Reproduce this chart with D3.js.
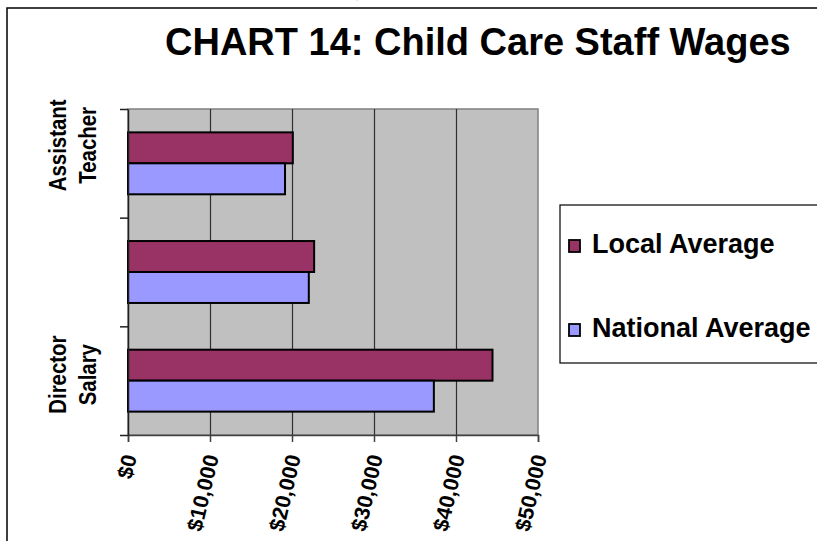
<!DOCTYPE html>
<html>
<head>
<meta charset="utf-8">
<script src="https://cdn.jsdelivr.net/npm/d3@7"></script>
<style>
  body { margin: 0; background: #fff; }
  svg { display: block; font-family: "Liberation Sans", Arial, sans-serif; }
</style>
</head>
<body>
<svg id="vis" width="817" height="541"></svg>
<script>
'use strict';

// chart data, top category first (Excel draws the first row at the bottom)
var categories = ['Assistant Teacher', 'Teacher', 'Director Salary'];
var categoryLabels = [['Assistant', 'Teacher'], [], ['Director', 'Salary']];
var seriesNames = ['Local Average', 'National Average'];
var localAverage = [20100, 22700, 44450];
var nationalAverage = [19150, 22050, 37300];
var xTicks = [0, 10000, 20000, 30000, 40000, 50000];

(function () {
    var colors = ['#993366', '#9999FF'];
    var plot = {left: 128, top: 109, right: 538, bottom: 435};
    // Excel puts the wrapped labels a bit above the band centre
    var labelShift = [-18, 0, -6];

    var svg = d3.select('#vis');

    // page border (the chart was cut out of a larger document)
    svg.append('rect')
        .attr('x', 7).attr('y', 8)
        .attr('width', 900).attr('height', 600)
        .attr('fill', '#fff')
        .attr('stroke', '#000')
        .attr('stroke-width', 1.5);

    // bits of the text line above the chart
    svg.append('text').attr('x', 356).attr('y', -3)
        .style('font-family', 'Liberation Serif').style('font-size', '20px').text(',');
    svg.append('text').attr('x', 576).attr('y', -6)
        .style('font-family', 'Liberation Serif').style('font-size', '24px').text('p');

    // title
    svg.append('text')
        .attr('x', 165).attr('y', 55)
        .style('font-size', '38px')
        .style('font-weight', 'bold')
        .text('CHART 14: Child Care Staff Wages');

    var x = d3.scaleLinear().domain([0, 50000]).range([plot.left, plot.right]);
    var y = d3.scaleBand().domain(categories)
        .range([plot.top, plot.bottom])
        .paddingInner(0.43).paddingOuter(0.215);
    var ySub = d3.scaleBand().domain(seriesNames).range([0, y.bandwidth()]);

    // plot background
    svg.append('rect')
        .attr('x', plot.left).attr('y', plot.top)
        .attr('width', plot.right - plot.left)
        .attr('height', plot.bottom - plot.top)
        .attr('fill', '#C0C0C0')
        .attr('stroke', '#808080')
        .attr('stroke-width', 1.5);

    // vertical gridlines
    var grid = svg.append('g')
        .attr('transform', 'translate(0,' + plot.bottom + ')')
        .call(d3.axisBottom(x).tickValues(xTicks.slice(1, -1))
            .tickSize(-(plot.bottom - plot.top)).tickFormat(''));
    grid.select('.domain').remove();
    grid.selectAll('line').attr('stroke', '#303030').attr('stroke-width', 1.2);

    // bars
    var rows = categories.map(function (c, i) {
        return {cat: c, values: [localAverage[i], nationalAverage[i]]};
    });
    var groups = svg.selectAll('.row')
        .data(rows)
        .enter().append('g')
        .attr('class', 'row')
        .attr('transform', function (d) { return 'translate(0,' + y(d.cat) + ')'; });

    groups.selectAll('rect')
        .data(function (d) {
            return d.values.map(function (v, j) { return {name: seriesNames[j], value: v, idx: j}; });
        })
        .enter().append('rect')
        .attr('x', x(0))
        .attr('y', function (d) { return ySub(d.name); })
        .attr('width', function (d) { return x(d.value) - x(0); })
        .attr('height', ySub.bandwidth())
        .attr('fill', function (d) { return colors[d.idx]; })
        .attr('stroke', '#000')
        .attr('stroke-width', 2);

    // x axis
    var xAxis = svg.append('g')
        .attr('transform', 'translate(0,' + plot.bottom + ')')
        .call(d3.axisBottom(x).tickValues(xTicks).tickSize(7).tickFormat(d3.format('$,.0f')));
    xAxis.select('.domain').attr('stroke', '#404040').attr('stroke-width', 1.5);
    xAxis.selectAll('.tick line').attr('stroke', '#404040').attr('stroke-width', 1.5);
    xAxis.selectAll('.tick text')
        .attr('x', 0).attr('y', 0).attr('dy', '0.35em')
        .attr('transform', 'translate(1,20) rotate(-77)')
        .style('text-anchor', 'end')
        .style('font-family', '"Liberation Sans", Arial, sans-serif')
        .style('font-size', '21.5px')
        .style('font-weight', 'bold')
        .attr('fill', '#000');

    // y axis: ticks between categories
    var yEdges = d3.scaleLinear().domain([0, categories.length]).range([plot.top, plot.bottom]);
    var yAxis = svg.append('g')
        .attr('transform', 'translate(' + plot.left + ',0)')
        .call(d3.axisLeft(yEdges).tickValues(d3.range(categories.length + 1))
            .tickSize(8).tickSizeOuter(0).tickFormat(''));
    yAxis.selectAll('line, path').attr('stroke', '#202020').attr('stroke-width', 1.5);

    // category labels, rotated, two lines each, slightly condensed
    categories.forEach(function (c, i) {
        var lines = categoryLabels[i];
        if (!lines.length) return;
        var cy = y(c) + y.bandwidth() / 2 + labelShift[i];
        lines.forEach(function (line, k) {
            svg.append('text')
                .attr('transform', 'translate(' + (66 + k * 30) + ',' + cy + ') rotate(-90) scale(0.85,1)')
                .style('text-anchor', 'middle')
                .style('font-size', '24px')
                .style('font-weight', 'bold')
                .text(line);
        });
    });

    // legend
    var legend = svg.append('g');
    legend.append('rect')
        .attr('x', 560).attr('y', 205)
        .attr('width', 300).attr('height', 158)
        .attr('fill', '#fff')
        .attr('stroke', '#000')
        .attr('stroke-width', 1.2);
    seriesNames.forEach(function (name, i) {
        var base = 253 + i * 84;
        legend.append('rect')
            .attr('x', 569).attr('y', base - 13)
            .attr('width', 11).attr('height', 12)
            .attr('fill', colors[i])
            .attr('stroke', '#000')
            .attr('stroke-width', 1.8);
        legend.append('text')
            .attr('x', 592).attr('y', base)
            .style('font-size', '27px')
            .style('font-weight', 'bold')
            .text(name);
    });
})();
</script>
</body>
</html>
